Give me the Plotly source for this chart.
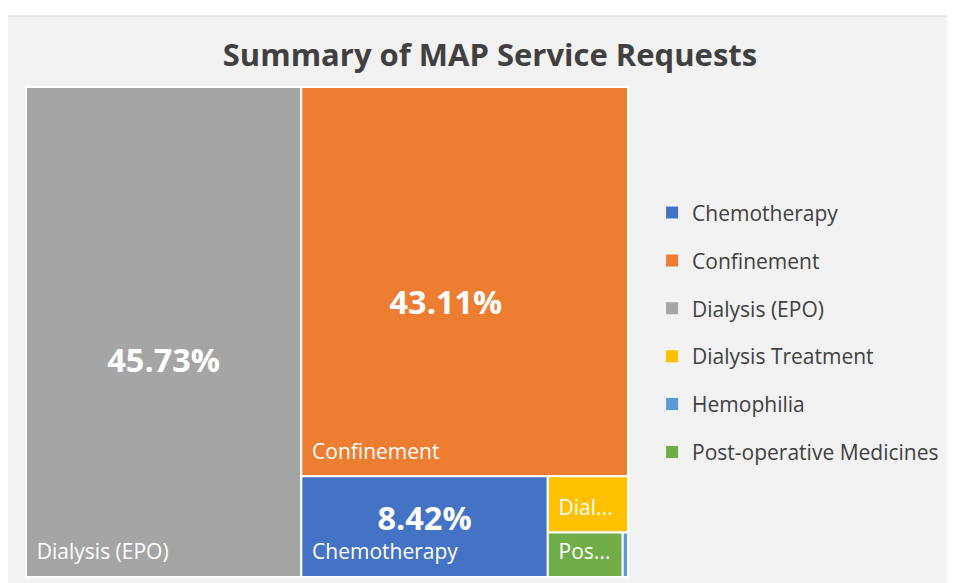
import plotly.graph_objects as go

# Data
categories = ["Dialysis (EPO)", "Confinement", "Chemotherapy", "Dialysis Treatment", "Post-operative Medicines", "Hemophilia"]
shares = [45.73, 43.11, 8.42, 1.53, 1.13, 0.08]
tile_labels = ["Dialysis (EPO)", "Confinement", "Chemotherapy", "Dial...", "Pos...", ""]
pct_labels = ["45.73%", "43.11%", "8.42%", "", "", ""]
legend_order = ["Chemotherapy", "Confinement", "Dialysis (EPO)", "Dialysis Treatment", "Hemophilia", "Post-operative Medicines"]

color_map = {
    "Chemotherapy": "#4472C4",
    "Confinement": "#ED7D31",
    "Dialysis (EPO)": "#A5A5A5",
    "Dialysis Treatment": "#FFC000",
    "Hemophilia": "#5B9BD5",
    "Post-operative Medicines": "#70AD47",
}
FONT = "Open Sans"
NOPAD = dict(t=0, l=0, r=0, b=0)
NB = "\u00a0"

# text styling templates (spacer lines nudge the text inside each tile)
LABEL_TPL = NB + "<span style='font-size:21px'>" + NB + "%{text}</span><br>" + NB
PCT = "<span style='font-size:32.5px'><b>%{customdata}</b></span>"
pct_templates = [
    (NB + "<br>") * 6 + PCT,
    (NB + "<br>") * 5 + PCT + "<span style='font-size:36px'>" + NB * 4 + "</span>",
    PCT + ("<br>" + NB) * 2,
    "", "", "",
]

fig = go.Figure()

# Tiles with category labels (bottom-left)
fig.add_trace(go.Treemap(
    labels=categories,
    parents=[""] * len(categories),
    values=shares,
    text=tile_labels,
    texttemplate=LABEL_TPL,
    textposition="bottom left",
    textfont=dict(family=FONT, size=9, color="white"),
    marker=dict(colors=[color_map[c] for c in categories], line=dict(color="white", width=2), pad=NOPAD),
    tiling=dict(packing="squarify", squarifyratio=1, pad=0),
    pathbar=dict(visible=False),
    hoverinfo="none",
    sort=True,
    domain=dict(x=[0, 1], y=[0, 1]),
))

# Overlay with percentages (centered)
fig.add_trace(go.Treemap(
    labels=categories,
    parents=[""] * len(categories),
    values=shares,
    customdata=pct_labels,
    texttemplate=pct_templates,
    textposition="middle center",
    textfont=dict(family=FONT, size=10, color="white"),
    marker=dict(colors=["rgba(0,0,0,0)"] * len(categories), line=dict(width=0), pad=NOPAD),
    tiling=dict(packing="squarify", squarifyratio=1, pad=0),
    pathbar=dict(visible=False),
    hoverinfo="none",
    sort=True,
    domain=dict(x=[0, 1], y=[0, 1]),
))

# Legend entries
for i, name in enumerate(legend_order):
    fig.add_trace(go.Scatter(
        x=[None], y=[None], mode="markers", name=name,
        legendgroup=f"g{i}",
        marker=dict(symbol="square", size=17, color=color_map[name]),
        hoverinfo="skip",
    ))

fig.update_layout(
    width=955, height=583,
    margin=dict(l=18, r=335, t=79, b=14, pad=0, autoexpand=False),
    paper_bgcolor="white",
    plot_bgcolor="rgba(0,0,0,0)",
    xaxis=dict(visible=False),
    yaxis=dict(visible=False),
    font=dict(family=FONT, color="#404040"),
    title=dict(
        text="<b>Summary of MAP Service Requests</b>",
        x=0.5047, xanchor="center", xref="container",
        y=0.919, yanchor="middle", yref="container",
        font=dict(family=FONT, size=31, color="#404040"),
    ),
    showlegend=True,
    legend=dict(
        x=1.040, xanchor="left", y=0.785, yanchor="top",
        font=dict(family=FONT, size=21, color="#404040"),
        tracegroupgap=17.6, itemsizing="constant",
        bgcolor="rgba(0,0,0,0)",
    ),
    shapes=[dict(
        type="rect", xref="paper", yref="paper", layer="below",
        x0=-0.0349, x1=1.56, y0=-0.03, y1=1.145,
        fillcolor="#f2f2f2", line=dict(color="#d0d0d0", width=1),
    )],
)

fig.write_html("out.html")
